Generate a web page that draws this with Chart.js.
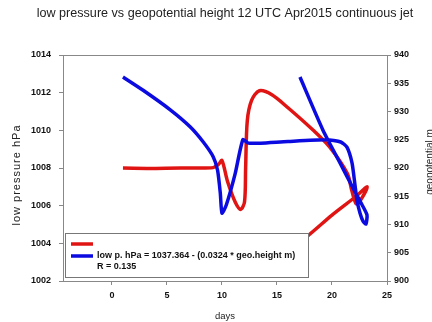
<!DOCTYPE html>
<html>
<head>
<meta charset="utf-8">
<script src="https://cdn.jsdelivr.net/npm/chart.js@4.4.1/dist/chart.umd.min.js"></script>
<style>
  html, body { margin: 0; padding: 0; background: #fff; }
  canvas { display: block; }
</style>
</head>
<body>
<canvas id="chart" width="432" height="322"></canvas>
<script>
// Low pressure (left axis) traced along the days.
const redDays = [1, 4, 7, 9.2, 9.7, 10.0, 10.5, 11.2, 11.7, 12.05, 12.15, 12.3, 12.7, 13.4, 14.5, 16, 18.3, 19.8, 21.4, 21.8, 22.2, 22.6, 23.2, 22.2, 20, 17.8, 16.5];
const redPressure = [1008.0, 1007.98, 1008.0, 1008.02, 1008.2, 1008.4, 1007.3, 1006.2, 1005.8, 1006.2, 1008.0, 1010.5, 1011.6, 1012.1, 1011.9, 1011.2, 1010.0, 1009.1, 1007.7, 1006.8, 1006.1, 1006.3, 1007.0, 1006.5, 1005.5, 1004.4, 1003.9];

// Geopotential height (right axis).
const blueDays = [1, 2.8, 5.3, 7.1, 8.3, 9.2, 9.6, 9.85, 10.0, 10.4, 11.2, 11.9, 12.4, 13.5, 16, 19.5, 20.8, 21.36, 21.82, 22.09, 22.27, 22.55, 22.82, 23.09, 23.18, 22.73, 22.09, 20.73, 19.18, 17.09];
const blueHeight = [936.1, 933.8, 930.3, 927.3, 924.6, 922.0, 919.6, 915.5, 912.0, 913.5, 919.0, 925.0, 924.4, 924.4, 924.7, 925.0, 924.6, 923.7, 920.9, 917.0, 914.3, 912.0, 910.6, 910.1, 911.7, 913.5, 915.8, 920.9, 926.7, 936.1];

const xTicks = [0, 5, 10, 15, 20, 25];

const titleText = 'low pressure vs geopotential height 12 UTC Apr2015 continuous jet';
const leftTitle = 'low pressure hPa';
const rightTitle = 'geopotential m';
const legendLines = ['low p. hPa = 1037.364 - (0.0324 * geo.height m)', 'R = 0.135'];

const FONT = 'Arial, "Liberation Sans", sans-serif';
const RED = 'rgb(225,20,20)';
const BLUE = 'rgb(10,10,225)';
const AXIS = '#888';

function toPoints(xs, ys) {
  return xs.map((x, i) => ({ x: x, y: ys[i] }));
}

function verticalText(ctx, text, x, y, font, spacing) {
  ctx.save();
  ctx.translate(x, y);
  ctx.rotate(-Math.PI / 2);
  ctx.font = font;
  if (spacing) ctx.letterSpacing = spacing;
  ctx.textAlign = 'center';
  ctx.textBaseline = 'middle';
  ctx.fillText(text, 0, 0);
  ctx.restore();
}

// Title, top frame line, axis titles and the boxed legend.
const decorations = {
  id: 'decorations',
  afterDraw(chart) {
    const ctx = chart.ctx;
    const a = chart.chartArea;
    ctx.save();

    ctx.strokeStyle = AXIS;
    ctx.lineWidth = 1;
    ctx.beginPath();
    ctx.moveTo(a.left, a.top + 0.5);
    ctx.lineTo(a.right, a.top + 0.5);
    ctx.stroke();

    ctx.fillStyle = '#222';
    ctx.font = '12.6px ' + FONT;
    ctx.textAlign = 'center';
    ctx.textBaseline = 'middle';
    ctx.fillText(titleText, 225, 14);

    verticalText(ctx, leftTitle, 17, 175, '11px ' + FONT, '1px');
    verticalText(ctx, rightTitle, 430, 162, '10px ' + FONT);

    // Legend box.
    ctx.fillStyle = '#fff';
    ctx.fillRect(65.5, 233.5, 243, 44);
    ctx.strokeStyle = '#777';
    ctx.strokeRect(65.5, 233.5, 243, 44);

    ctx.lineWidth = 3.5;
    ctx.strokeStyle = RED;
    ctx.beginPath();
    ctx.moveTo(71, 244);
    ctx.lineTo(93, 244);
    ctx.stroke();
    ctx.strokeStyle = BLUE;
    ctx.beginPath();
    ctx.moveTo(71, 256);
    ctx.lineTo(93, 256);
    ctx.stroke();

    ctx.fillStyle = '#111';
    ctx.font = 'bold 9px ' + FONT;
    ctx.textAlign = 'left';
    ctx.fillText(legendLines[0], 97, 256);
    ctx.fillText(legendLines[1], 97, 267);
    ctx.restore();
  }
};

const tickFont = { family: FONT, size: 9, weight: 'bold' };
const titleFont = { family: FONT, size: 9.5 };

new Chart(document.getElementById('chart'), {
  type: 'scatter',
  data: {
    datasets: [
      {
        data: toPoints(redDays, redPressure),
        yAxisID: 'y',
        showLine: true,
        borderColor: RED,
        borderWidth: 3.5,
        pointRadius: 0,
        tension: 0.3,
        order: 1
      },
      {
        data: toPoints(blueDays, blueHeight),
        yAxisID: 'y2',
        showLine: true,
        borderColor: BLUE,
        borderWidth: 3.5,
        pointRadius: 0,
        tension: 0.2,
        order: 0
      }
    ]
  },
  options: {
    responsive: false,
    animation: false,
    layout: { padding: { top: 55, left: 0, right: 0, bottom: 0 } },
    plugins: {
      legend: { display: false },
      tooltip: { enabled: false }
    },
    scales: {
      x: {
        type: 'linear',
        min: -4.45,
        max: 25,
        afterBuildTicks: scale => { scale.ticks = xTicks.map(v => ({ value: v })); },
        afterFit: scale => { scale.height = 41; },
        grid: { drawOnChartArea: false, tickLength: 4, color: AXIS },
        border: { color: AXIS },
        ticks: { font: tickFont, color: '#111', padding: 5, maxRotation: 0 },
        title: { display: true, text: 'days', font: titleFont, color: '#222', padding: { top: 0, bottom: 0 } }
      },
      y: {
        position: 'left',
        min: 1002,
        max: 1014,
        afterFit: scale => { scale.width = 63; },
        grid: { drawOnChartArea: false, tickLength: 4, color: AXIS },
        border: { color: AXIS },
        ticks: { stepSize: 2, font: tickFont, color: '#111', padding: 8, callback: v => String(v) }
      },
      y2: {
        position: 'right',
        min: 900,
        max: 940,
        afterFit: scale => { scale.width = 45; },
        grid: { drawOnChartArea: false, tickLength: 4, color: AXIS },
        border: { color: AXIS },
        ticks: { stepSize: 5, font: tickFont, color: '#111', padding: 3, callback: v => String(v) }
      }
    }
  },
  plugins: [decorations]
});
</script>
</body>
</html>
